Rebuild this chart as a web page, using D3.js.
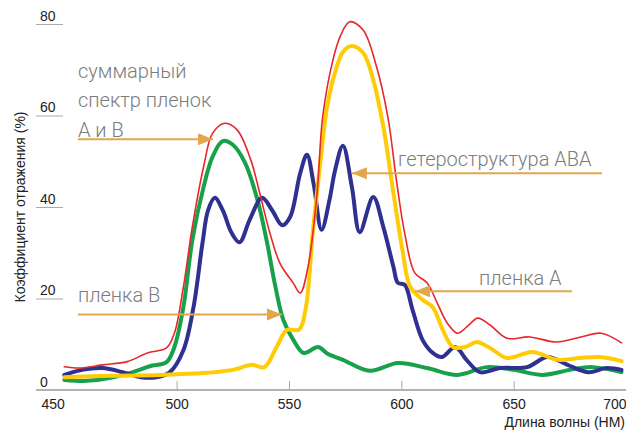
<!DOCTYPE html>
<html>
<head>
<meta charset="utf-8">
<script src="https://cdn.jsdelivr.net/npm/d3@7"></script>
<style>
  body { margin: 0; background: #fff; }
  svg { display: block; }
  .tick-label { font-family: "Liberation Sans Narrow", "Liberation Sans", Arial, sans-serif; font-size: 14px; fill: #222; }
  .axis-title { font-family: "Liberation Sans Narrow", "Liberation Sans", Arial, sans-serif; font-size: 14px; fill: #222; }
  .note { font-family: Roboto, "Liberation Sans", Arial, sans-serif; font-weight: 300; font-size: 20px; fill: #7c7c7c; }
</style>
</head>
<body>
<svg id="chart"></svg>
<script>
// wavelength ticks (nm) and reflectance ticks (%)
const xTicks = [450, 500, 550, 600, 650, 700];
const yTicks = [0, 20, 40, 60, 80];

// summed spectrum of films A and B  [nm, %]
const sumAB = [[450,5.1],[457,4.8],[467,5.5],[478,6.2],[487,8.1],[495.5,9.2],[499,12.4],[503,22.5],
  [507,35.7],[512,48.8],[516,56.1],[521.5,58.3],[527,56.8],[533,50.3],[537,43],[541.5,34.3],[546,27.7],
  [552,23.3],[555,21.2],[558.5,27],[562.5,43],[565,59.7],[569.5,72],[573,77.5],[577,80.5],[583,78.7],
  [589,70.6],[594,59.7],[598,45.2],[601.5,34.3],[606,25.6],[611.5,23.4],[616,19],[620.5,14.6],
  [625,12.4],[630,14.2],[634,15.7],[639.5,14.2],[647,11.3],[657,11.6],[669,10.5],[680,11.6],
  [689,12.4],[698,10.3]];

// film B
const filmB = [[450,2.2],[460,2],[470,2.6],[480.5,3.9],[488,5.2],[495.5,6.1],[499,9.4],[503,18.1],
  [507,32.8],[512,44.4],[516,51],[520.5,54.4],[525,53.6],[530.5,49.6],[536,41.5],[540,32.8],[544,22.5],
  [547.5,15.3],[552,10.9],[556.5,8.1],[563,9.4],[567,8],[574,6.6],[586,4.2],[598.5,5.9],[611.5,4.8],
  [625,3.3],[638,5],[650,4.4],[663,3.3],[675,4.4],[685,5],[698,3.9]];

// film A
const filmA = [[450,2.8],[470,3.1],[492.5,3.3],[512,3.7],[525,4.4],[533.5,5.5],[539,5],[544.5,9.4],
  [549,13.1],[554.5,13.2],[557.5,18],[560.5,34],[564,50],[567,62],[570,68.5],[574,73.9],[578,75.2],
  [583,73.7],[587.5,67.8],[592,57.5],[596.5,43],[600.5,30.6],[604,22.5],[609.5,19.7],[614,18.1],
  [618.5,13.1],[623,9.4],[628.5,9.4],[633.5,10.5],[639.5,9.2],[647,7],[658.5,8.3],[669.5,6.6],
  [679.5,7],[688.5,7.2],[698,6.3]];

// heterostructure ABA
const heteroABA = [[450,3.3],[458,4.4],[467,4.8],[476,3.9],[484,2.8],[491,2.8],[497,3.9],[503,8.7],
  [507.5,18.1],[511.5,32.1],[514,39.3],[517,42],[520.5,39.3],[524.5,34.3],[528,32.3],[532.5,37.2],
  [538,42],[542.5,39.3],[547,36],[550.5,37.8],[555,47.4],[558,51.4],[561,45],[564.5,35],[568,41.5],
  [570.5,48],[574,53.4],[578,44.4],[581.5,34.5],[587.5,42.2],[592,35.6],[596.5,26.9],[598.5,23.4],
  [601.5,23],[605,17.5],[609.5,10.9],[614,8.1],[618,7.2],[624,9.4],[629,6.6],[635,3.9],[644,4.8],
  [656,5],[665,7.2],[674,5.5],[683,3.9],[691.5,4.8],[698,4.4]];

// annotations: text lines, text anchor point, arrow start and tip (nm, %)
const notes = [
  { lines: ["суммарный", "спектр пленок", "А и В"], at: [456.1, 68.2], from: [456.1, 54.8], to: [516.2, 54.8] },
  { lines: ["пленка В"], at: [456.1, 19.3], from: [456.1, 16.5], to: [546.9, 16.5] },
  { lines: ["гетероструктура АВА"], at: [598.5, 49.0], from: [689.3, 47.4], to: [578.0, 47.4] },
  { lines: ["пленка А"], at: [634.6, 23.0], from: [675.9, 21.6], to: [606.1, 21.6] }
];

const width = 626, height = 431;
const svg = d3.select("#chart").attr("width", width).attr("height", height);

const x = d3.scaleLinear().domain([450, 700]).range([64.3, 626]);
const y = d3.scaleLinear().domain([0, 80]).range([390, 24]);

// baseline
svg.append("line")
  .attr("x1", 36).attr("x2", width)
  .attr("y1", y(0)).attr("y2", y(0))
  .attr("stroke", "#9a9a9a").attr("stroke-width", 1.5);

// x axis
const xAxis = svg.append("g")
  .attr("transform", `translate(0,${y(0)})`)
  .call(d3.axisBottom(x).tickValues(xTicks).tickSizeInner(-9).tickSizeOuter(0).tickPadding(18));
xAxis.select(".domain").remove();
xAxis.selectAll(".tick line")
  .attr("stroke", "#aaa")
  .attr("opacity", d => (d === 450 || d === 700) ? 0 : 1);
xAxis.selectAll(".tick text")
  .attr("class", "tick-label")
  .attr("font-family", null).attr("font-size", null)
  .attr("y", 19).attr("dy", 0)
  .attr("text-anchor", d => (d === 450 || d === 700) ? "end" : "middle");

// y axis: short rules with labels sitting on top
const yAxis = svg.append("g")
  .attr("transform", "translate(36,0)")
  .call(d3.axisRight(y).tickValues(yTicks).tickSize(27));
yAxis.select(".domain").remove();
yAxis.selectAll(".tick line")
  .attr("stroke", "#aaa")
  .attr("opacity", d => d === 0 ? 0 : 1);
yAxis.selectAll(".tick text")
  .attr("class", "tick-label")
  .attr("font-family", null).attr("font-size", null)
  .attr("x", 4).attr("y", -4).attr("dy", 0)
  .attr("text-anchor", "start");

// axis titles
svg.append("text")
  .attr("class", "axis-title")
  .attr("transform", "translate(25,207) rotate(-90)")
  .attr("text-anchor", "middle")
  .text("Коэффициент отражения (%)");

svg.append("text")
  .attr("class", "axis-title")
  .attr("x", 625).attr("y", 427)
  .attr("text-anchor", "end")
  .text("Длина волны (НМ)");

// curves
const line = d3.line()
  .x(d => x(d[0]))
  .y(d => y(d[1]))
  .curve(d3.curveCatmullRom.alpha(0.5));

const series = [
  { data: filmB, color: "#19a04b", w: 4 },
  { data: heteroABA, color: "#2e3192", w: 4 },
  { data: filmA, color: "#ffcb05", w: 4 },
  { data: sumAB, color: "#e8262d", w: 1.6 }
];

svg.selectAll(".curve")
  .data(series)
  .enter()
  .append("path")
  .attr("class", "curve")
  .attr("fill", "none")
  .attr("stroke", d => d.color)
  .attr("stroke-width", d => d.w)
  .attr("stroke-linejoin", "round")
  .attr("stroke-linecap", "round")
  .attr("d", d => line(d.data));

// annotations with arrows
const arrowColor = "#e2a64b";
const note = svg.selectAll(".note-g")
  .data(notes)
  .enter()
  .append("g")
  .attr("class", "note-g");

note.append("line")
  .attr("x1", d => x(d.from[0])).attr("y1", d => y(d.from[1]))
  .attr("x2", d => x(d.to[0])).attr("y2", d => y(d.to[1]))
  .attr("stroke", arrowColor).attr("stroke-width", 2);

note.append("path")
  .attr("fill", arrowColor)
  .attr("d", d => {
    const tx = x(d.to[0]), ty = y(d.to[1]);
    const dir = Math.sign(x(d.to[0]) - x(d.from[0]));
    const len = 15, half = 6;
    return `M${tx},${ty}L${tx - dir * len},${ty - half}L${tx - dir * len},${ty + half}Z`;
  });

note.each(function(d) {
  const t = d3.select(this).append("text")
    .attr("class", "note")
    .attr("x", x(d.at[0]))
    .attr("y", y(d.at[1]));
  d.lines.forEach((s, i) => {
    t.append("tspan")
      .attr("x", x(d.at[0]))
      .attr("dy", i === 0 ? 0 : 29.5)
      .text(s);
  });
});
</script>
</body>
</html>
